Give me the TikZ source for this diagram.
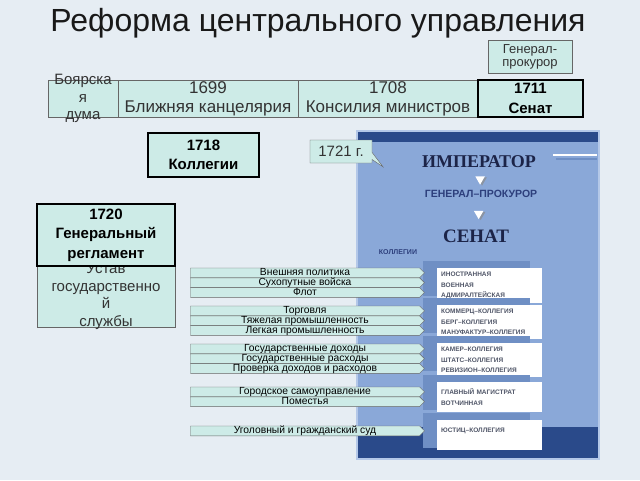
\documentclass[tikz,border=0pt]{standalone}
\usepackage{fontspec}
\setmainfont{Liberation Sans}
\newfontfamily\panelserif{Liberation Serif}
\usetikzlibrary{shapes}
\usetikzlibrary{positioning}
\usetikzlibrary{shadows}

\definecolor{bgpale}{HTML}{E6EDF3}
\definecolor{boxfill}{HTML}{CDEBE7}
\definecolor{panelblue}{HTML}{8AA8D8}
\definecolor{paneldark}{HTML}{2A4A8A}
\definecolor{panelrim}{HTML}{B4C8E8}
\definecolor{tabblue}{HTML}{6F8FC4}
\definecolor{navy}{HTML}{1C2448}
\definecolor{inkblue}{HTML}{2D3F7C}
\definecolor{labgray}{HTML}{505668}

\tikzset{
    cell/.style={draw=black!60, fill=boxfill, inner sep=0pt, outer sep=0pt, align=center, text=black!80, font=\fontsize{17}{19}\selectfont},
    keybox/.style={cell, draw=black, line width=1.6pt, text=black, font=\bfseries\fontsize{15}{19.5}\selectfont},
    celltext/.style={align=center, inner sep=0pt, text=black!80, font=\fontsize{15}{17.5}\selectfont},
    bar/.style={signal, signal to=east, draw=black!60, fill=boxfill, minimum width=234pt, minimum height=9.8pt, inner sep=0pt, outer sep=0pt, text height=7pt, text depth=2pt, font=\fontsize{10.3}{10}\selectfont},
    whitebox/.style={fill=white, minimum width=105pt, minimum height=30pt, text width=97pt, inner sep=4pt, align=left, text=labgray, font=\bfseries\fontsize{6.5}{10.5}\selectfont},
    tipdown/.style={regular polygon, regular polygon sides=3, shape border rotate=180, fill=white, minimum size=11pt, inner sep=0pt, drop shadow={shadow xshift=2pt, shadow yshift=-1pt, fill=black!45, opacity=.7}},
}

\begin{document}
\begin{tikzpicture}[x=1pt, y=-1pt]

    \fill[bgpale] (0,0) rectangle (640,480);
    \useasboundingbox (0,0) rectangle (640,480);

    \node(title)[font=\fontsize{32}{36}\selectfont, text=black!90] at (318,23) {Реформа центрального управления};
    \node(genprok)[cell, minimum width=84pt, minimum height=33pt, font=\fontsize{13}{13}\selectfont] at (530,56.5) {Генерал-\\прокурор};

    % first row
    \node(duma)[cell, minimum width=70pt, minimum height=37pt, label={[celltext]center:{Боярска\\я\\дума}}] at (83,98.5) {};
    \node(blizh)[cell, minimum width=180pt, minimum height=37pt, right=0pt of duma]{1699\\Ближняя канцелярия};
    \node(konsil)[cell, minimum width=180pt, minimum height=37pt, right=0pt of blizh]{1708\\Консилия министров};
    \node(senat)[keybox, minimum width=105pt, minimum height=37pt, right=0pt of konsil]{1711\\Сенат};

    \node(kolleg)[keybox, minimum width=111pt, minimum height=44pt] at (203.5,155) {1718\\Коллегии};

    % panel
    \fill[panelblue] (357,131) rectangle (599,459);
    \fill[paneldark] (357,131) rectangle (599,142);
    \fill[paneldark] (357,427) rectangle (599,459);
    \draw[panelrim, line width=1.5pt] (357,131) rectangle (599,459);
    \draw[white, line width=2.5pt] (553,155) -- (597,155);
    \draw[tabblue, line width=1.5pt] (556,159) -- (597,159);

    \node(imperator)[text=navy, font=\panelserif\bfseries\fontsize{18}{18}\selectfont] at (479,162) {ИМПЕРАТОР};
    \node(genprokp)[text=inkblue, font=\bfseries\fontsize{10.5}{10.5}\selectfont] at (481,194) {ГЕНЕРАЛ–ПРОКУРОР};
    \node(senatp)[text=navy, font=\panelserif\bfseries\fontsize{19}{19}\selectfont] at (476,236) {СЕНАТ};
    \node(kollegii)[text=inkblue, font=\bfseries\fontsize{7}{7}\selectfont] at (398,252) {КОЛЛЕГИИ};
    \path (imperator) -- (genprokp) node(arr1)[pos=0.5, tipdown]{};
    \path (genprokp) -- (senatp) node(arr2)[pos=0.5, tipdown]{};

    \foreach \n/\y/\t in {inostr/268/{ИНОСТРАННАЯ\\ВОЕННАЯ\\АДМИРАЛТЕЙСКАЯ},
                          kommerc/305/{КОММЕРЦ–КОЛЛЕГИЯ\\БЕРГ–КОЛЛЕГИЯ\\МАНУФАКТУР–КОЛЛЕГИЯ},
                          kamer/343/{КАМЕР–КОЛЛЕГИЯ\\ШТАТС–КОЛЛЕГИЯ\\РЕВИЗИОН–КОЛЛЕГИЯ},
                          magistr/382/{ГЛАВНЫЙ МАГИСТРАТ\\ВОТЧИННАЯ},
                          justic/420/{ЮСТИЦ–КОЛЛЕГИЯ\\\mbox{}}}{
        \fill[tabblue] (423,\y-7) rectangle (530,\y+28);
        \node(\n)[whitebox, anchor=north west] at (437,\y) {\t};
    }

    \node(g1721)[rectangle callout, draw=black!60, fill=boxfill, minimum width=62pt, minimum height=23pt, inner sep=0pt, callout relative pointer={(11pt,-4pt)}, font=\fontsize{15}{15}\selectfont, text=black!80] at (341,151.5) {1721 г.};

    % left column
    \node(ustav)[cell, minimum width=138pt, minimum height=61pt, label={[celltext]center:{Устав\\государственно\\й\\службы}}] at (106,296.5) {};
    \node(reglament)[keybox, minimum width=138pt, minimum height=62pt, above=0pt of ustav]{1720\\Генеральный\\регламент};

    % bars
    \node(vneshn)[bar, anchor=north] at (305,268) {Внешняя политика};
    \node(suhop)[bar, below=0pt of vneshn]{Сухопутные войска};
    \node(flot)[bar, below=0pt of suhop]{Флот};

    \node(torg)[bar, anchor=north] at (305,306) {Торговля};
    \node(tyazh)[bar, below=0pt of torg]{Тяжелая промышленность};
    \node(legk)[bar, below=0pt of tyazh]{Легкая промышленность};

    \node(dohod)[bar, anchor=north] at (305,344) {Государственные доходы};
    \node(rashod)[bar, below=0pt of dohod]{Государственные расходы};
    \node(proverka)[bar, below=0pt of rashod]{Проверка доходов и расходов};

    \node(gorod)[bar, anchor=north] at (305,387) {Городское самоуправление};
    \node(pomest)[bar, below=0pt of gorod]{Поместья};

    \node(sud)[bar, anchor=north] at (305,426) {Уголовный и гражданский суд};

\end{tikzpicture}
\end{document}
